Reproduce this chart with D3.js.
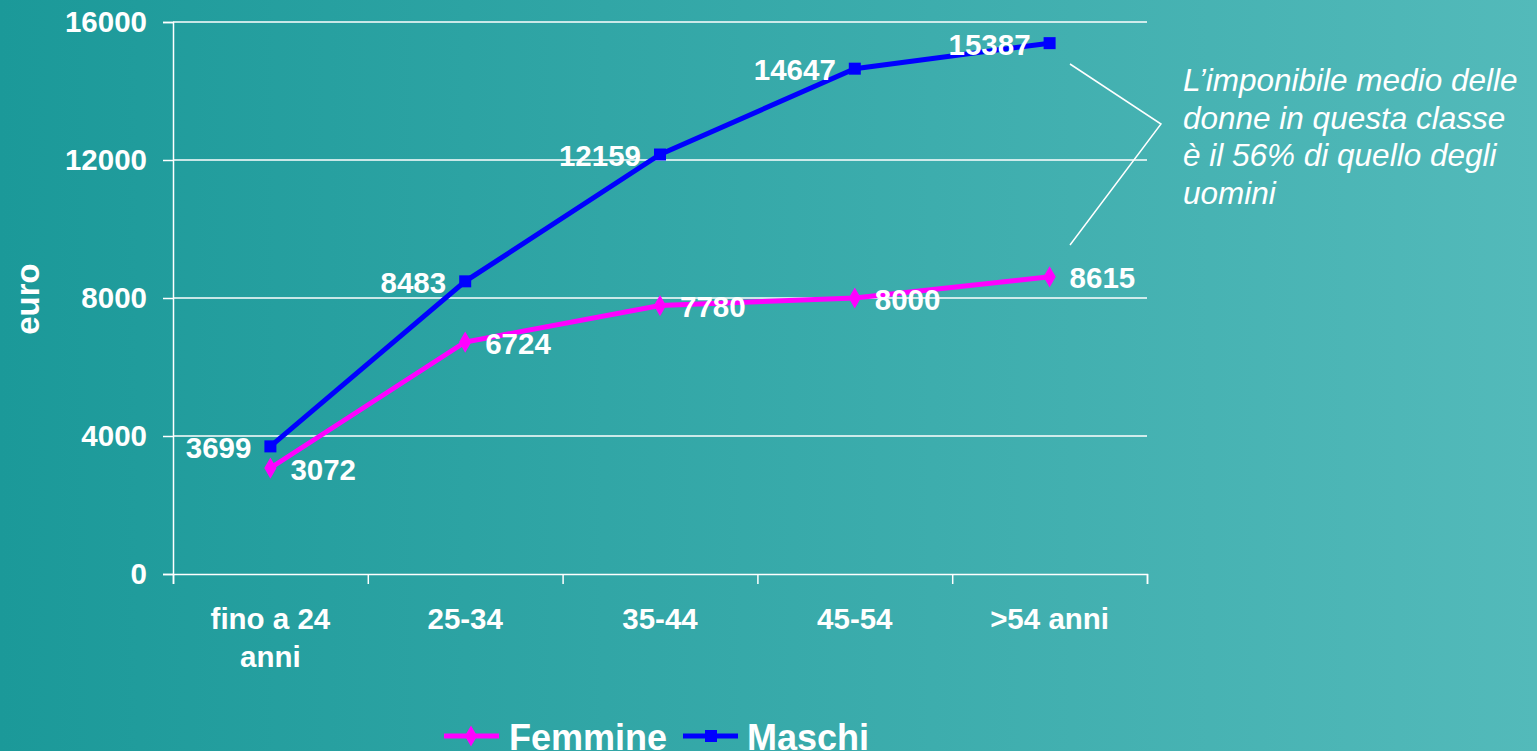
<!DOCTYPE html>
<html><head><meta charset="utf-8">
<script src="https://cdn.jsdelivr.net/npm/d3@7"></script>
<style>html,body{margin:0;padding:0;overflow:hidden;}svg{display:block;}</style>
</head><body>
<script>
const categories = [["fino a 24","anni"],["25-34"],["35-44"],["45-54"],[">54 anni"]];
const femmine = [3072, 6724, 7780, 8000, 8615];
const maschi = [3699, 8483, 12159, 14647, 15387];
const yTicks = [0, 4000, 8000, 12000, 16000];
const seriesNames = ["Femmine", "Maschi"];
const annotation = ["L\u2019imponibile medio delle","donne in questa classe","\u00e8 il 56% di quello degli","uomini"];

const W = 1537, H = 751;
const svg = d3.select("body").append("svg").attr("width", W).attr("height", H);
const defs = svg.append("defs");
const grad = defs.append("linearGradient").attr("id","bg").attr("x1","0").attr("x2","1").attr("y1","0").attr("y2","0");
grad.append("stop").attr("offset","0").attr("stop-color","#1b9999");
grad.append("stop").attr("offset","1").attr("stop-color","#53baba");
svg.append("rect").attr("width",W).attr("height",H).attr("fill","url(#bg)");

const font = "'Liberation Sans', Arial, sans-serif";
const FS = 29.5;
const x0 = 173, x1 = 1147, yB = 574, yT = 22;
const xBand = d3.scaleBand().domain(d3.range(categories.length)).range([x0, x1]);
const xc = i => xBand(i) + xBand.bandwidth()/2;
const y = d3.scaleLinear().domain([0, 16000]).range([yB, yT]);

// gridlines
svg.append("g").selectAll("line").data(yTicks.filter(d=>d>0)).join("line")
  .attr("x1", x0).attr("x2", x1).attr("y1", d=>y(d)).attr("y2", d=>y(d))
  .attr("stroke","#fff").attr("stroke-width",1.5);

// y axis
const yAxis = svg.append("g").attr("transform",`translate(${x0},0)`)
  .call(d3.axisLeft(y).tickValues(yTicks).tickSize(10).tickPadding(16).tickFormat(d3.format("d")));
yAxis.select(".domain").attr("stroke","#fff").attr("stroke-width",1.5);
yAxis.selectAll(".tick line").attr("stroke","#fff").attr("stroke-width",1.5);
yAxis.selectAll("text").attr("fill","#fff").attr("font-family",font).attr("font-weight","bold").attr("font-size",FS);

// x axis
const xAxis = svg.append("g").attr("transform",`translate(0,${yB})`)
  .call(d3.axisBottom(d3.scaleLinear().domain([0,categories.length]).range([x0,x1]))
    .tickValues(d3.range(categories.length+1)).tickSize(10).tickFormat(""));
xAxis.select(".domain").attr("stroke","#fff").attr("stroke-width",1.5);
xAxis.selectAll(".tick line").attr("stroke","#fff").attr("stroke-width",1.5);

// category labels
const catG = svg.append("g");
categories.forEach((lines, i) => {
  const t = catG.append("text").attr("x", xc(i)).attr("y", 629)
    .attr("text-anchor","middle").attr("fill","#fff").attr("font-family",font)
    .attr("font-weight","bold").attr("font-size",FS);
  lines.forEach((l, j) => t.append("tspan").attr("x", xc(i)).attr("dy", j===0?0:38).text(l));
});

// y axis title
svg.append("text").attr("transform","translate(39,299) rotate(-90)")
  .attr("text-anchor","middle").attr("fill","#fff").attr("font-family",font)
  .attr("font-weight","bold").attr("font-size",33).text("euro");

const line = d3.line().x((d,i)=>xc(i)).y(d=>y(d));
const colors = {Femmine:"#ff00ff", Maschi:"#0000ff"};

svg.append("path").datum(femmine).attr("d", line).attr("fill","none").attr("stroke",colors.Femmine).attr("stroke-width",5);
svg.append("path").datum(maschi).attr("d", line).attr("fill","none").attr("stroke",colors.Maschi).attr("stroke-width",5);

const diamond = d3.symbol().type(d3.symbolDiamond).size(130);
svg.append("g").selectAll("path").data(femmine).join("path")
  .attr("transform",(d,i)=>`translate(${xc(i)},${y(d)})`).attr("d", diamond()).attr("fill",colors.Femmine);
svg.append("g").selectAll("rect").data(maschi).join("rect")
  .attr("x",(d,i)=>xc(i)-6).attr("y",d=>y(d)-6).attr("width",12).attr("height",12).attr("fill",colors.Maschi);

// value labels
svg.append("g").selectAll("text").data(maschi).join("text")
  .attr("x",(d,i)=>xc(i)-19).attr("y",d=>y(d)+1).attr("dy","0.36em")
  .attr("text-anchor","end").attr("fill","#fff").attr("font-family",font)
  .attr("font-weight","bold").attr("font-size",FS).text(d=>d);
svg.append("g").selectAll("text").data(femmine).join("text")
  .attr("x",(d,i)=>xc(i)+20).attr("y",d=>y(d)+1).attr("dy","0.36em")
  .attr("text-anchor","start").attr("fill","#fff").attr("font-family",font)
  .attr("font-weight","bold").attr("font-size",FS).text(d=>d);

// callout
svg.append("path").attr("d","M1070,64 L1161,124 L1070,245").attr("fill","none").attr("stroke","#fff").attr("stroke-width",1.5);
const ann = svg.append("text").attr("x",1183).attr("y",91).attr("fill","#fff").attr("font-family",font)
  .attr("font-style","italic").attr("font-size",31.5);
annotation.forEach((l,j)=>ann.append("tspan").attr("x",1183).attr("dy", j===0?0:37.7).text(l));

// legend
const leg = svg.append("g");
const legItems = [{name:seriesNames[0], x:444, tx:509}, {name:seriesNames[1], x:683, tx:747}];
legItems.forEach(it => {
  leg.append("line").attr("x1",it.x).attr("x2",it.x+55).attr("y1",736).attr("y2",736)
    .attr("stroke",colors[it.name]).attr("stroke-width",5);
  if (it.name === "Femmine") leg.append("path").attr("transform",`translate(${it.x+27},736)`).attr("d",diamond()).attr("fill",colors[it.name]);
  else leg.append("rect").attr("x",it.x+22).attr("y",730).attr("width",12).attr("height",12).attr("fill",colors[it.name]);
  leg.append("text").attr("x",it.tx).attr("y",750).attr("fill","#fff").attr("font-family",font)
    .attr("font-weight","bold").attr("font-size",36).text(it.name);
});
</script>
</body></html>
